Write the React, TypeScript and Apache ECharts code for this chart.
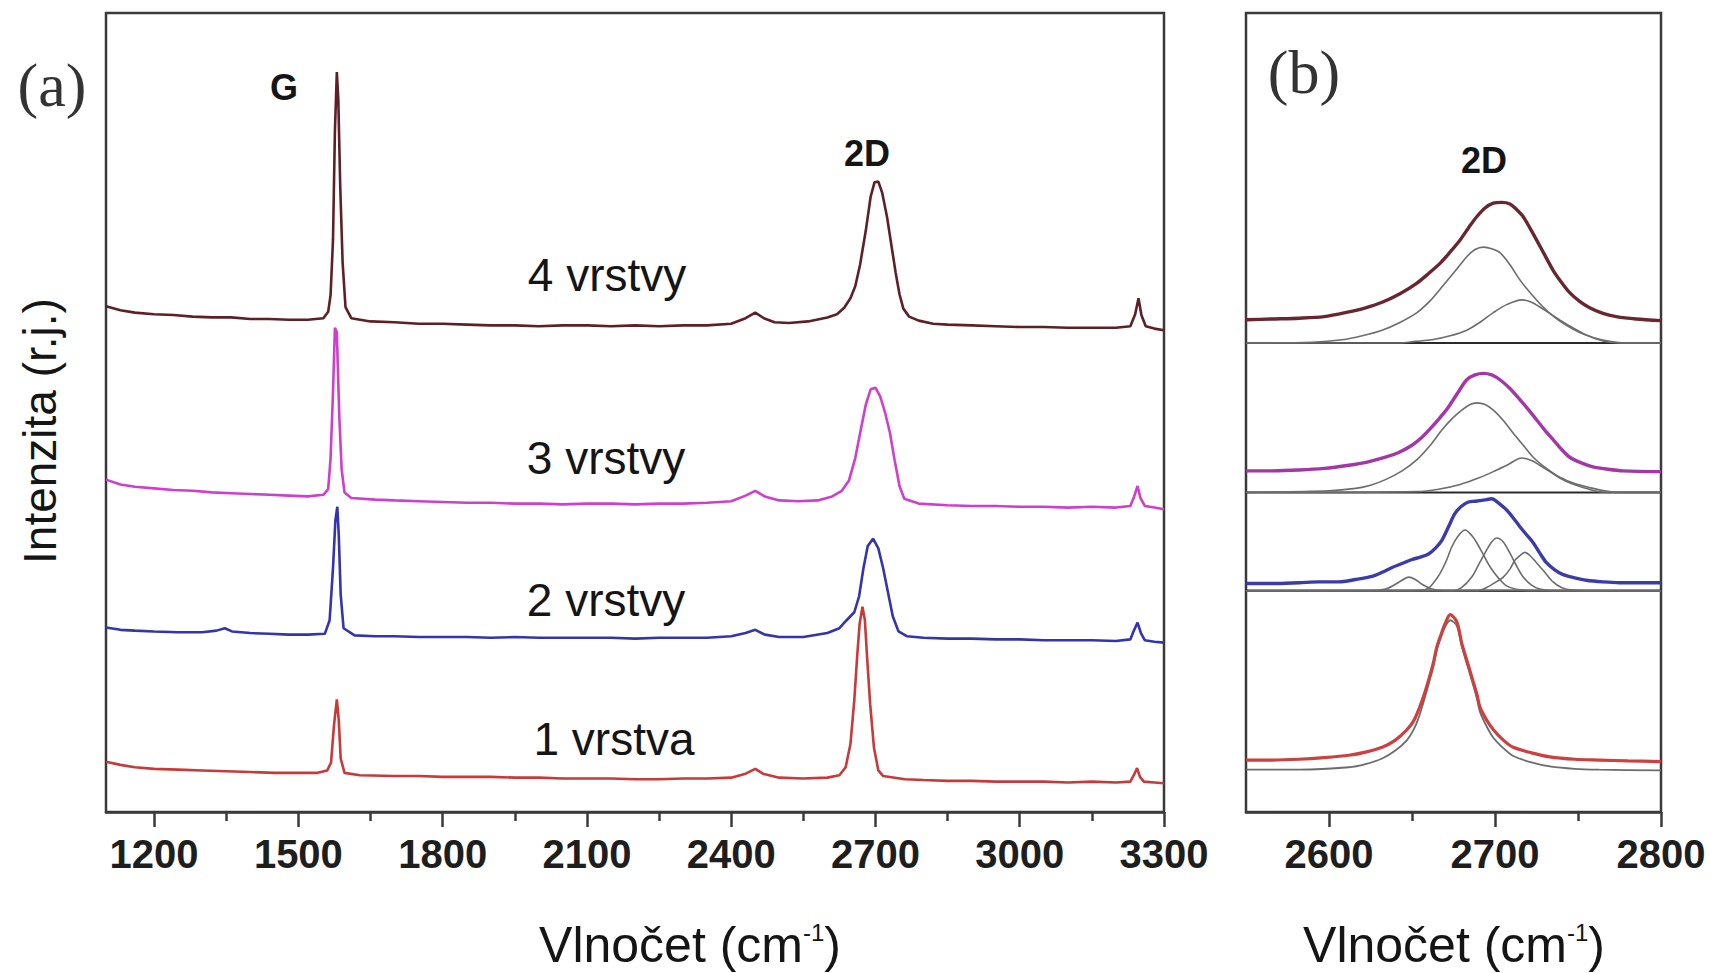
import React, { useEffect, useRef } from "react";
import * as echarts from "echarts";

// ---------- Panel (a): Raman spectra, x = wavenumber (cm-1), y = intensity (a.u., offset) ----------
const ticksA = [1200, 1500, 1800, 2100, 2400, 2700, 3000, 3300];
const minorTicksA = [1350, 1650, 1950, 2250, 2550, 2850, 3150];
const ticksB = [2600, 2700, 2800];
const minorTicksB = [2650, 2750];

const spec4 = [
  [1100, 63.3], [1130, 62.8], [1160, 62.5], [1200, 62.3], [1240, 62.2], [1280, 62.0], [1320, 61.9],
  [1360, 61.9], [1400, 61.7], [1440, 61.7], [1480, 61.6], [1520, 61.6], [1552, 61.8], [1562, 62.6],
  [1567, 64.7], [1572, 71.6], [1576, 85.2], [1580, 92.6], [1583, 89.3], [1587, 78.4], [1592, 68.8],
  [1598, 63.2], [1610, 61.8], [1650, 61.4], [1700, 61.3], [1750, 61.1], [1800, 61.1], [1850, 61.0],
  [1900, 60.9], [1950, 60.9], [2000, 60.8], [2050, 60.9], [2100, 60.9], [2150, 60.8], [2200, 60.9],
  [2250, 60.8], [2300, 60.9], [2350, 60.9], [2400, 61.1], [2430, 61.8], [2450, 62.5], [2468, 61.8],
  [2490, 61.3], [2520, 61.2], [2560, 61.4], [2600, 61.9], [2620, 62.3], [2635, 63.1], [2648, 64.3],
  [2658, 65.8], [2668, 68.5], [2680, 72.8], [2690, 77.0], [2698, 78.8], [2706, 78.9], [2714, 77.5],
  [2724, 74.5], [2733, 71.0], [2742, 67.5], [2750, 64.8], [2758, 63.0], [2770, 62.0], [2790, 61.5],
  [2820, 61.1], [2850, 61.0], [2900, 60.9], [2950, 60.8], [3000, 60.7], [3050, 60.7], [3100, 60.6],
  [3150, 60.6], [3200, 60.6], [3230, 60.8], [3240, 62.3], [3247, 64.3], [3253, 62.2], [3262, 60.8],
  [3280, 60.5], [3300, 60.3],
];

const spec3 = [
  [1100, 41.6], [1130, 41.0], [1160, 40.7], [1200, 40.5], [1240, 40.3], [1280, 40.2], [1320, 40.0],
  [1360, 39.9], [1400, 39.8], [1440, 39.7], [1480, 39.6], [1520, 39.5], [1552, 39.7], [1562, 40.4],
  [1567, 44.3], [1572, 52.5], [1576, 60.6], [1580, 60.0], [1585, 49.7], [1590, 42.9], [1596, 40.0],
  [1610, 39.3], [1660, 39.1], [1700, 39.0], [1750, 38.9], [1800, 38.8], [1850, 38.7], [1900, 38.7],
  [1950, 38.6], [2000, 38.6], [2050, 38.5], [2100, 38.6], [2150, 38.6], [2200, 38.5], [2250, 38.6],
  [2300, 38.6], [2350, 38.7], [2400, 38.9], [2430, 39.6], [2450, 40.2], [2470, 39.5], [2500, 39.0],
  [2540, 38.9], [2580, 39.0], [2610, 39.5], [2630, 40.2], [2645, 41.5], [2658, 44.3], [2670, 48.0],
  [2680, 51.0], [2690, 52.9], [2700, 53.1], [2710, 52.0], [2720, 50.0], [2730, 47.5], [2740, 44.0],
  [2750, 40.8], [2760, 39.2], [2790, 38.6], [2850, 38.4], [2900, 38.3], [2950, 38.3], [3000, 38.2],
  [3050, 38.2], [3100, 38.1], [3150, 38.2], [3200, 38.1], [3230, 38.3], [3238, 39.5], [3245, 40.8],
  [3251, 39.3], [3260, 38.3], [3280, 38.1], [3300, 37.9],
];

const spec2 = [
  [1100, 23.1], [1130, 22.8], [1160, 22.7], [1200, 22.6], [1250, 22.5], [1300, 22.5], [1330, 22.7],
  [1347, 23.0], [1362, 22.6], [1400, 22.4], [1440, 22.3], [1480, 22.2], [1520, 22.2], [1555, 22.3],
  [1565, 24.0], [1572, 30.5], [1577, 36.5], [1581, 38.2], [1584, 34.7], [1588, 27.2], [1594, 23.0],
  [1617, 22.1], [1660, 22.0], [1700, 22.0], [1750, 21.9], [1800, 21.9], [1850, 21.9], [1900, 21.8],
  [1950, 21.9], [2000, 21.8], [2050, 21.8], [2100, 21.8], [2150, 21.8], [2200, 21.7], [2250, 21.8],
  [2300, 21.8], [2350, 21.8], [2400, 22.0], [2430, 22.4], [2450, 22.8], [2470, 22.2], [2500, 21.9],
  [2550, 21.9], [2600, 22.4], [2625, 23.0], [2640, 24.0], [2656, 25.0], [2666, 27.0], [2675, 30.5],
  [2684, 33.3], [2695, 34.2], [2706, 33.0], [2716, 30.5], [2726, 27.5], [2736, 24.5], [2748, 22.6],
  [2765, 22.0], [2800, 21.8], [2850, 21.7], [2900, 21.7], [2950, 21.6], [3000, 21.6], [3050, 21.5],
  [3100, 21.5], [3150, 21.5], [3200, 21.4], [3230, 21.6], [3238, 22.8], [3245, 23.7], [3252, 22.4],
  [3260, 21.5], [3280, 21.3], [3300, 21.2],
];

const spec1 = [
  [1100, 6.3], [1130, 5.9], [1160, 5.6], [1200, 5.4], [1250, 5.3], [1300, 5.2], [1350, 5.1],
  [1400, 5.0], [1450, 4.9], [1500, 4.9], [1540, 4.9], [1560, 5.2], [1568, 6.2], [1574, 10.8],
  [1580, 14.1], [1584, 11.5], [1588, 6.7], [1596, 4.9], [1628, 4.6], [1700, 4.5], [1750, 4.5],
  [1800, 4.4], [1850, 4.4], [1900, 4.4], [1950, 4.3], [2000, 4.3], [2050, 4.2], [2100, 4.2],
  [2150, 4.2], [2200, 4.1], [2250, 4.1], [2300, 4.2], [2350, 4.2], [2400, 4.3], [2430, 4.8],
  [2450, 5.4], [2466, 4.8], [2500, 4.3], [2550, 4.2], [2600, 4.3], [2625, 4.6], [2638, 5.6],
  [2648, 8.5], [2656, 14.0], [2662, 19.5], [2667, 23.5], [2673, 25.7], [2678, 24.0], [2683, 19.0],
  [2689, 13.5], [2697, 8.0], [2706, 5.2], [2716, 4.5], [2761, 4.1], [2800, 4.0], [2850, 3.9],
  [2900, 3.9], [2950, 3.8], [3000, 3.8], [3050, 3.8], [3100, 3.7], [3150, 3.8], [3200, 3.7],
  [3230, 3.8], [3238, 4.7], [3244, 5.5], [3250, 4.4], [3258, 3.8], [3280, 3.7], [3300, 3.6],
];

// ---------- Panel (b): 2D band with fitted components ----------
const b4Spec = [
  [2550, 61.6], [2565, 61.7], [2582, 61.8], [2597, 62.0], [2612, 62.6], [2622, 63.1], [2632, 63.8],
  [2643, 64.9], [2653, 66.2], [2660, 67.4], [2667, 68.7], [2673, 70.1], [2679, 71.6], [2684, 73.1],
  [2689, 74.5], [2694, 75.6], [2699, 76.2], [2704, 76.3], [2709, 76.1], [2713, 75.4], [2717, 74.5],
  [2721, 73.1], [2725, 71.6], [2730, 69.7], [2735, 67.8], [2740, 66.3], [2745, 65.0], [2751, 63.9],
  [2757, 63.1], [2765, 62.4], [2773, 62.0], [2785, 61.7], [2800, 61.5],
];
const b4Base = [[2550, 58.7], [2800, 58.7]];
const b4Fit1 = [
  [2550, 58.7], [2590, 58.8], [2608, 59.1], [2620, 59.6], [2632, 60.3], [2643, 61.3], [2653, 62.5],
  [2661, 64.0], [2668, 65.7], [2676, 67.7], [2683, 69.5], [2688, 70.4], [2693, 70.7], [2698, 70.5],
  [2703, 70.0], [2709, 68.5], [2715, 66.6], [2722, 64.8], [2729, 63.2], [2736, 61.9], [2743, 60.9],
  [2751, 60.0], [2759, 59.4], [2769, 58.9], [2779, 58.7], [2800, 58.7],
];
const b4Fit2 = [
  [2550, 58.7], [2642, 58.7], [2652, 58.9], [2662, 59.1], [2673, 59.6], [2683, 60.3], [2691, 61.3],
  [2699, 62.5], [2707, 63.5], [2716, 64.1], [2722, 63.8], [2727, 63.2], [2733, 62.4], [2739, 61.6],
  [2746, 60.7], [2753, 59.9], [2761, 59.2], [2769, 58.8], [2780, 58.7], [2800, 58.7],
];

const b3Spec = [
  [2550, 42.7], [2566, 42.7], [2582, 42.8], [2597, 43.0], [2612, 43.4], [2623, 43.8], [2634, 44.4],
  [2642, 45.0], [2650, 45.9], [2656, 46.9], [2662, 48.2], [2667, 49.4], [2672, 50.7], [2678, 52.6],
  [2683, 54.1], [2688, 54.7], [2693, 54.9], [2698, 54.7], [2703, 54.1], [2709, 53.0], [2715, 51.6],
  [2720, 50.4], [2725, 49.1], [2730, 47.8], [2735, 46.6], [2740, 45.4], [2745, 44.4], [2752, 43.7],
  [2759, 43.2], [2768, 42.9], [2777, 42.7], [2800, 42.6],
];
const b3Base = [[2550, 40.0], [2800, 40.0]];
const b3Fit1 = [
  [2550, 40.0], [2600, 40.2], [2616, 40.5], [2625, 40.9], [2634, 41.6], [2644, 42.7], [2653, 44.1],
  [2661, 45.9], [2668, 47.8], [2674, 49.2], [2680, 50.3], [2685, 51.0], [2689, 51.2], [2694, 51.0],
  [2699, 50.3], [2705, 49.0], [2711, 47.4], [2717, 45.9], [2723, 44.4], [2731, 43.0], [2739, 41.9],
  [2748, 41.1], [2757, 40.6], [2766, 40.2], [2775, 40.0], [2800, 40.0],
];
const b3Fit2 = [
  [2550, 40.0], [2653, 40.1], [2666, 40.4], [2679, 41.0], [2690, 41.8], [2699, 42.6], [2708, 43.5],
  [2716, 44.3], [2722, 44.0], [2727, 43.4], [2733, 42.6], [2739, 41.8], [2746, 41.1], [2753, 40.6],
  [2760, 40.2], [2767, 40.0], [2800, 40.0],
];

const b2Spec = [
  [2550, 28.6], [2566, 28.6], [2582, 28.7], [2594, 28.8], [2606, 28.8], [2616, 29.1], [2626, 29.5],
  [2632, 30.0], [2638, 30.6], [2644, 31.1], [2650, 31.6], [2655, 31.9], [2660, 32.3], [2664, 33.0],
  [2668, 34.0], [2672, 35.7], [2676, 37.4], [2680, 38.3], [2684, 38.8], [2688, 38.9], [2692, 39.0],
  [2695, 39.1], [2698, 39.2], [2702, 38.7], [2707, 37.8], [2711, 36.8], [2715, 35.7], [2719, 34.7],
  [2723, 33.7], [2727, 32.4], [2731, 31.2], [2736, 30.3], [2741, 29.7], [2748, 29.3], [2755, 29.0],
  [2765, 28.8], [2775, 28.7], [2800, 28.7],
];
const b2Base = [[2550, 27.7], [2800, 27.7]];
const b2Fit1 = [
  [2550, 27.7], [2625, 27.7], [2634, 27.9], [2640, 28.5], [2644, 29.0], [2648, 29.4], [2652, 29.1],
  [2656, 28.5], [2662, 27.9], [2670, 27.7], [2800, 27.7],
];
const b2Fit2 = [
  [2550, 27.7], [2650, 27.7], [2659, 27.9], [2663, 28.7], [2667, 29.9], [2671, 31.6], [2674, 33.2],
  [2678, 34.6], [2682, 35.3], [2686, 34.6], [2689, 33.7], [2693, 32.2], [2697, 30.7], [2702, 29.3],
  [2707, 28.3], [2715, 27.8], [2725, 27.7], [2800, 27.7],
];
const b2Fit3 = [
  [2550, 27.7], [2675, 27.7], [2680, 28.1], [2686, 29.4], [2690, 30.9], [2695, 32.8], [2698, 33.8],
  [2701, 34.3], [2705, 33.8], [2709, 32.4], [2713, 30.8], [2717, 29.4], [2722, 28.4], [2727, 27.9],
  [2735, 27.7], [2800, 27.7],
];
const b2Fit4 = [
  [2550, 27.7], [2690, 27.7], [2695, 28.1], [2700, 28.7], [2705, 29.4], [2709, 30.4], [2712, 31.5],
  [2715, 32.1], [2718, 32.5], [2721, 32.1], [2725, 31.2], [2730, 30.0], [2735, 28.8], [2740, 28.1],
  [2745, 27.8], [2755, 27.7], [2800, 27.7],
];

const b1Spec = [
  [2550, 6.5], [2566, 6.5], [2582, 6.6], [2597, 6.8], [2612, 7.1], [2622, 7.5], [2632, 8.1],
  [2640, 9.0], [2647, 10.3], [2651, 11.4], [2654, 12.8], [2657, 14.5], [2660, 16.5], [2663, 18.8],
  [2665, 20.7], [2668, 22.5], [2670, 23.6], [2673, 24.7], [2677, 23.8], [2680, 21.1], [2683, 19.0],
  [2686, 16.9], [2689, 14.8], [2691, 13.1], [2695, 11.5], [2699, 10.3], [2705, 9.0], [2711, 8.1],
  [2722, 7.4], [2733, 6.9], [2748, 6.6], [2763, 6.5], [2780, 6.4], [2800, 6.3],
];
const b1Fit = [
  [2550, 5.3], [2582, 5.3], [2612, 5.6], [2622, 6.0], [2632, 6.7], [2640, 7.7], [2647, 9.0],
  [2651, 10.3], [2654, 11.8], [2657, 13.8], [2660, 16.0], [2663, 18.3], [2665, 20.3], [2668, 22.2],
  [2670, 23.2], [2673, 24.0], [2677, 23.3], [2680, 20.7], [2683, 18.6], [2686, 16.5], [2689, 14.3],
  [2691, 12.5], [2695, 10.7], [2699, 9.3], [2705, 8.0], [2711, 7.0], [2722, 6.2], [2733, 5.7],
  [2748, 5.4], [2763, 5.3], [2800, 5.2],
];

const layerLabels = ["4 vrstvy", "3 vrstvy", "2 vrstvy", "1 vrstva"];
const peakLabels = ["G", "2D", "2D"];
const panelLabels = ["(a)", "(b)"];
const xTitle = "Vlnočet (cm{sup|-1})";
const yTitle = "Intenzita (r.j.)";

const SANS = "'Liberation Sans', Arial, Helvetica, sans-serif";
const SERIF = "'Liberation Serif', 'DejaVu Serif', 'Times New Roman', serif";
const AXIS_COLOR = "#3a3a3a";

const C4 = "#5e1f26";
const C3 = "#cf3fcf";
const C2 = "#3434ad";
const C1 = "#c83a3a";

function line(data: number[][], color: string, width: number, xi: number, yi: number, smooth: number | boolean = false, z = 3) {
  return {
    type: "line",
    data,
    xAxisIndex: xi,
    yAxisIndex: yi,
    showSymbol: false,
    symbol: "none",
    smooth,
    silent: true,
    z,
    lineStyle: { color, width },
  };
}

function majorAxis(grid: number, min: number, max: number, ticks: number[]) {
  return {
    type: "value",
    gridIndex: grid,
    min,
    max,
    position: "bottom",
    axisLine: { show: true, onZero: false, lineStyle: { color: AXIS_COLOR, width: 2.5 } },
    axisTick: { show: true, customValues: ticks, length: 15, inside: false, lineStyle: { color: AXIS_COLOR, width: 2.5 } },
    axisLabel: {
      show: true,
      customValues: ticks,
      formatter: (v: number) => String(v),
      margin: 22,
      fontSize: 40,
      fontWeight: "bold",
      fontFamily: SANS,
      color: "#1e1e1e",
    },
    splitLine: { show: false },
  };
}

function minorAxis(grid: number, min: number, max: number, ticks: number[]) {
  return {
    type: "value",
    gridIndex: grid,
    min,
    max,
    position: "bottom",
    axisLine: { show: false, onZero: false },
    axisTick: { show: true, customValues: ticks, length: 9, lineStyle: { color: AXIS_COLOR, width: 2.5 } },
    axisLabel: { show: false },
    splitLine: { show: false },
  };
}

function yAxisFor(grid: number) {
  return {
    type: "value",
    gridIndex: grid,
    min: 0,
    max: 100,
    axisLine: { show: false },
    axisTick: { show: false },
    axisLabel: { show: false },
    splitLine: { show: false },
  };
}

function txt(text: string, x: number, y: number, size: number, opts: any = {}) {
  return {
    type: "text",
    x,
    y,
    rotation: opts.rotation || 0,
    silent: true,
    z: 10,
    style: {
      text,
      x: 0,
      y: 0,
      fill: opts.color || "#151515",
      fontSize: size,
      fontFamily: opts.family || SANS,
      fontWeight: opts.weight || "normal",
      align: "center",
      verticalAlign: "middle",
      rich: opts.rich,
    },
  };
}

const supRich = {
  sup: { fontSize: 24, fontFamily: SANS, fill: "#151515", verticalAlign: "top", lineHeight: 40 },
};

export default function App() {
  const ref = useRef<HTMLDivElement>(null);
  useEffect(() => {
    document.body.style.margin = "0";
    if (!ref.current) return;
    const chart = echarts.init(ref.current, null, { renderer: "svg" });
    const option: any = {
      animation: false,
      backgroundColor: "#ffffff",
      grid: [
        { left: 106, top: 13, width: 1058, height: 799, show: true, borderColor: AXIS_COLOR, borderWidth: 2.5, backgroundColor: "transparent" },
        { left: 1246, top: 13, width: 415, height: 799, show: true, borderColor: AXIS_COLOR, borderWidth: 2.5, backgroundColor: "transparent" },
      ],
      xAxis: [
        majorAxis(0, 1100, 3300, ticksA),
        minorAxis(0, 1100, 3300, minorTicksA),
        majorAxis(1, 2550, 2800, ticksB),
        minorAxis(1, 2550, 2800, minorTicksB),
      ],
      yAxis: [yAxisFor(0), yAxisFor(1)],
      series: [
        line(spec4, C4, 2.6, 0, 0),
        line(spec3, C3, 2.6, 0, 0),
        line(spec2, C2, 2.6, 0, 0),
        line(spec1, C1, 2.6, 0, 0),
        line(b4Base, "#2a2a2a", 2, 2, 1),
        line(b4Fit1, "#6c6c6c", 1.6, 2, 1, 0.3),
        line(b4Fit2, "#6c6c6c", 1.6, 2, 1, 0.3),
        line(b4Spec, "#6a2630", 3.4, 2, 1, 0.3, 4),
        line(b3Base, "#2a2a2a", 2, 2, 1),
        line(b3Fit1, "#6c6c6c", 1.6, 2, 1, 0.3),
        line(b3Fit2, "#6c6c6c", 1.6, 2, 1, 0.3),
        line(b3Spec, "#a436a8", 3.4, 2, 1, 0.3, 4),
        line(b2Base, "#1a1a1a", 2.4, 2, 1),
        line(b2Fit1, "#6c6c6c", 1.6, 2, 1, 0.3),
        line(b2Fit2, "#6c6c6c", 1.6, 2, 1, 0.3),
        line(b2Fit3, "#6c6c6c", 1.6, 2, 1, 0.3),
        line(b2Fit4, "#6c6c6c", 1.6, 2, 1, 0.3),
        line(b2Spec, "#3b3bab", 3.4, 2, 1, 0.3, 4),
        line(b1Fit, "#6c6c6c", 1.8, 2, 1, 0.3),
        line(b1Spec, "#cc4040", 3.2, 2, 1, 0.3, 4),
      ],
      graphic: [
        txt(panelLabels[0], 52, 85, 62, { family: SERIF, color: "#333" }),
        txt(panelLabels[1], 1304, 72, 62, { family: SERIF, color: "#333" }),
        txt(peakLabels[0], 284, 87, 36, { weight: "bold" }),
        txt(peakLabels[1], 867, 153, 36, { weight: "bold" }),
        txt(peakLabels[2], 1484, 160, 36, { weight: "bold" }),
        txt(layerLabels[0], 607, 275, 46),
        txt(layerLabels[1], 606, 458, 46),
        txt(layerLabels[2], 606, 600, 46),
        txt(layerLabels[3], 614, 739, 46),
        txt(yTitle, 40, 431, 46, { rotation: Math.PI / 2 }),
        txt(xTitle, 690, 945, 50, { rich: supRich }),
        txt(xTitle, 1454, 945, 50, { rich: supRich }),
      ],
    };
    chart.setOption(option);
    return () => chart.dispose();
  }, []);
  return <div ref={ref} style={{ width: 1711, height: 973, overflow: "hidden" }} />;
}
